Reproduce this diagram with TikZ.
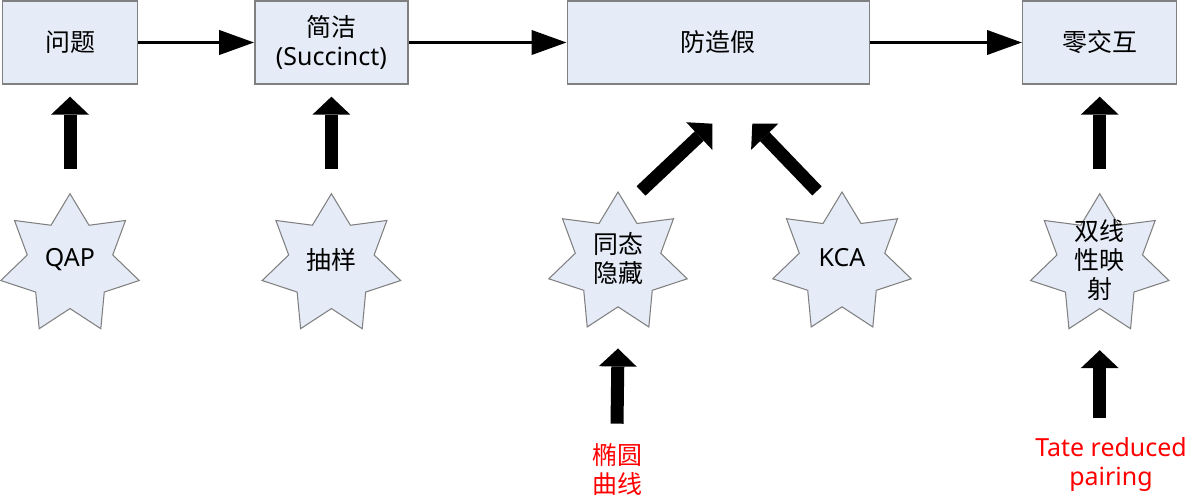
\documentclass[tikz,border=0pt]{standalone}
\usepackage{fontspec}
\setmainfont{Noto Sans}
\newfontfamily\cjk{Noto Sans CJK SC}
\usetikzlibrary{positioning,calc}
\usetikzlibrary{shapes.geometric}
\usetikzlibrary{arrows.meta}
\definecolor{boxfill}{RGB}{230,236,247}
\definecolor{boxline}{RGB}{128,128,128}
\newcommand{\labelsize}{\fontsize{14.2}{16.5}\selectfont}

\begin{document}
\begin{tikzpicture}[
    every node/.style={font=\labelsize},
    cn/.style={font=\cjk\labelsize},
    stage/.style={draw=boxline, line width=0.8pt, fill=boxfill, minimum height=1.66cm, inner sep=0pt, align=center},
    hint/.style={star, star points=7, star point ratio=1.62, draw=boxline, line width=0.6pt, fill=boxfill, minimum size=2.84cm, inner sep=0pt},
    hinttext/.style={align=center, yshift=1mm},
    flow/.style={line width=2.2pt, -{Triangle[length=0.7cm,width=0.48cm]}},
    push/.style={line width=0.26cm, -{Triangle[length=0.36cm,width=0.76cm,line width=0pt]}},
    basis/.style={text=red, align=center, inner sep=0pt},
    ]
\useasboundingbox (0,0) rectangle (24,-10.02);
% properties
\node[stage, cn, minimum width=2.7cm] (problem) at (1.4,-0.85) {问题};
\node[stage, minimum width=3.06cm, right=2.32cm of problem] (succinct) {{\cjk 简洁}\\(Succinct)};
\node[stage, cn, minimum width=6.04cm, right=3.16cm of succinct] (sound) {防造假};
\node[stage, cn, minimum width=3.08cm, right=3.04cm of sound] (zk) {零交互};
\draw[flow] (problem) -- (succinct);
\draw[flow] (succinct) -- (sound);
\draw[flow] (sound) -- (zk);
% tools
\node[hint, below=2.16cm of problem, label={[hinttext]center:QAP}] (qap) {};
\node[hint, below=2.16cm of succinct, label={[hinttext, cn]center:抽样}] (sample) {};
\node[hint, label={[hinttext, cn]center:同态\\隐藏}] (homo) at (12.36,-5.26) {};
\node[hint, label={[hinttext]center:KCA}] (kca) at (16.84,-5.26) {};
\node[hint, below=2.16cm of zk, label={[hinttext, cn]center:双线\\性映\\射}] (pairing) {};
\draw[push] ([yshift=0.48cm]qap.north) -- ([yshift=-0.24cm]problem.south);
\draw[push] ([yshift=0.48cm]sample.north) -- ([yshift=-0.24cm]succinct.south);
\draw[push] ([xshift=0.46cm]homo.north) -- ([shift={(-0.12,-0.78)}]sound.south);
\draw[push] ([xshift=-0.5cm]kca.north) -- ([shift={(0.68,-0.78)}]sound.south);
\draw[push] ([yshift=0.48cm]pairing.north) -- ([yshift=-0.24cm]zk.south);
% foundations
\node[basis, cn] (curve) at (12.34,-9.4) {椭圆\\曲线};
\node[basis] (tate) at (22.22,-9.3) {Tate reduced\\pairing};
\draw[push] ([yshift=0.4cm]curve.north) -- ([yshift=-0.82cm]homo.south);
\draw[push] ($(tate.north -| pairing.south)+(0,0.4)$) -- ([yshift=-0.82cm]pairing.south);
\end{tikzpicture}
\end{document}
